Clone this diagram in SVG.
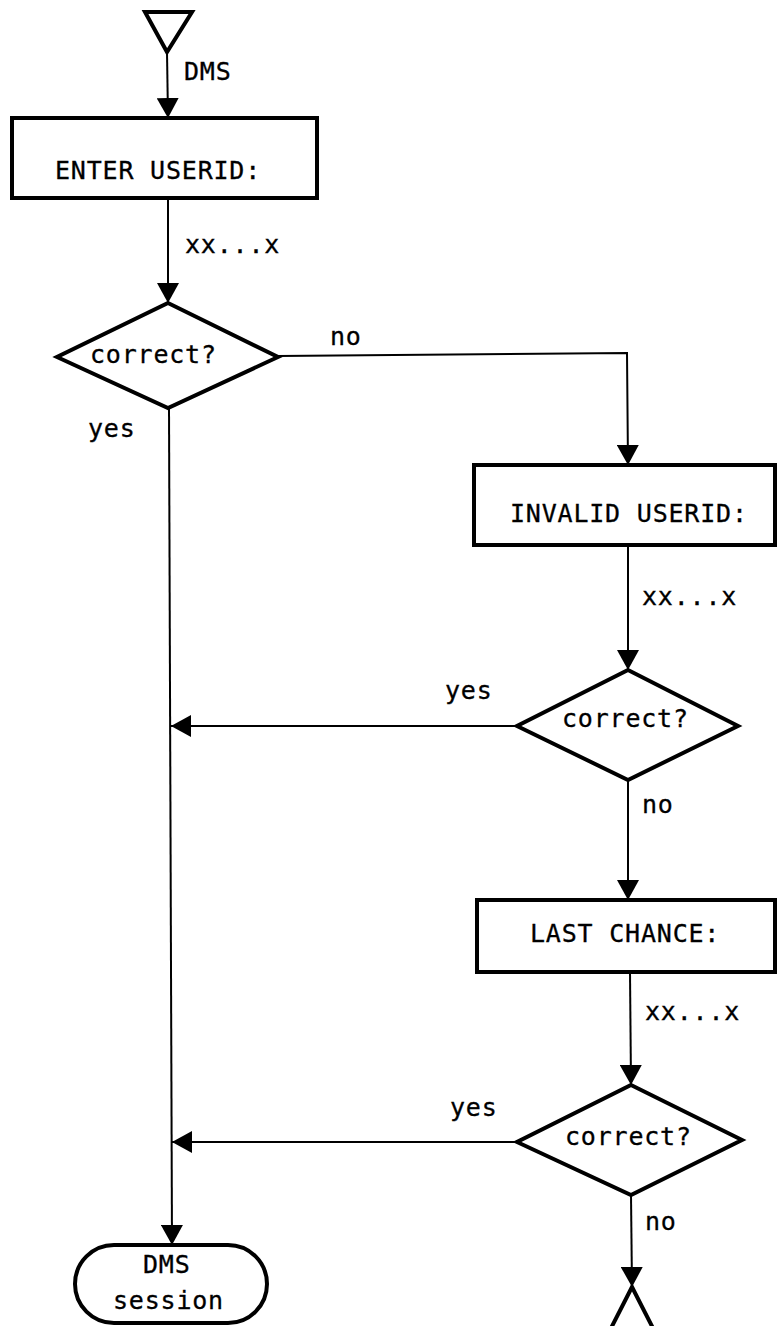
<svg xmlns="http://www.w3.org/2000/svg" width="777" height="1326" viewBox="0 0 777 1326">
  <defs>
    <marker id="arrow" markerUnits="userSpaceOnUse" markerWidth="22" markerHeight="22" refX="20" refY="11" orient="auto" viewBox="0 0 22 22">
      <path d="M0,0 L20,11 L0,22 Z" fill="#000"/>
    </marker>
    <style>
      .shape { fill: #fff; stroke: #000; stroke-width: 4; stroke-linejoin: miter; }
      .conn { fill: none; stroke: #000; stroke-width: 2; }
      .lbl { font-family: "DejaVu Sans Mono", "Liberation Mono", monospace; font-size: 25px; letter-spacing: 0.8px; fill: #000; stroke: #000; stroke-width: 0.3; }
    </style>
  </defs>
  <rect x="0" y="0" width="777" height="1326" fill="#fff"/>

  <g id="connectors">
    <path class="conn" d="M167,52 L168,118" marker-end="url(#arrow)"/>
    <path class="conn" d="M168,198 L168,303" marker-end="url(#arrow)"/>
    <path class="conn" d="M278,356 L627,353 L628,465" marker-end="url(#arrow)"/>
    <path class="conn" d="M628,545 L628,670" marker-end="url(#arrow)"/>
    <path class="conn" d="M517,726 L171,726" marker-end="url(#arrow)"/>
    <path class="conn" d="M628,780 L628,900" marker-end="url(#arrow)"/>
    <path class="conn" d="M630,972 L631,1085" marker-end="url(#arrow)"/>
    <path class="conn" d="M517,1142 L172,1142" marker-end="url(#arrow)"/>
    <path class="conn" d="M631,1195 L632,1287" marker-end="url(#arrow)"/>
    <path class="conn" d="M169,408 L172,1245" marker-end="url(#arrow)"/>
    <text class="lbl" x="184" y="80">DMS</text>
    <text class="lbl" x="185" y="253">xx...x</text>
    <text class="lbl" x="330" y="345">no</text>
    <text class="lbl" x="88" y="437">yes</text>
    <text class="lbl" x="642" y="605">xx...x</text>
    <text class="lbl" x="445" y="699">yes</text>
    <text class="lbl" x="642" y="813">no</text>
    <text class="lbl" x="645" y="1020">xx...x</text>
    <text class="lbl" x="450" y="1116">yes</text>
    <text class="lbl" x="645" y="1230">no</text>
  </g>

  <g id="start">
    <polygon class="shape" points="145,12 192,12 167,52" stroke-width="3"/>
  </g>

  <g id="enter-userid">
    <rect class="shape" x="12" y="118" width="305" height="80"/>
    <text class="lbl" x="55" y="179">ENTER USERID:</text>
  </g>

  <g id="check1">
    <polygon class="shape" points="168,303 278,357 168,408 57,357"/>
    <text class="lbl" x="90" y="363">correct?</text>
  </g>

  <g id="invalid-userid">
    <rect class="shape" x="474" y="465" width="301" height="80"/>
    <text class="lbl" x="510" y="522">INVALID USERID:</text>
  </g>

  <g id="check2">
    <polygon class="shape" points="628,670 738,726 628,780 517,726"/>
    <text class="lbl" x="562" y="727">correct?</text>
  </g>

  <g id="last-chance">
    <rect class="shape" x="477" y="900" width="298" height="72"/>
    <text class="lbl" x="530" y="942">LAST CHANCE:</text>
  </g>

  <g id="check3">
    <polygon class="shape" points="631,1085 742,1140 631,1195 517,1142"/>
    <text class="lbl" x="565" y="1145">correct?</text>
  </g>

  <g id="end-connector">
    <polygon class="shape" points="632,1287 659,1340 605,1340" stroke-width="3"/>
  </g>

  <g id="dms-session">
    <rect class="shape" x="75" y="1245" width="192" height="78" rx="39" ry="39"/>
    <text class="lbl" x="143" y="1273">DMS</text>
    <text class="lbl" x="113" y="1309">session</text>
  </g>
</svg>
